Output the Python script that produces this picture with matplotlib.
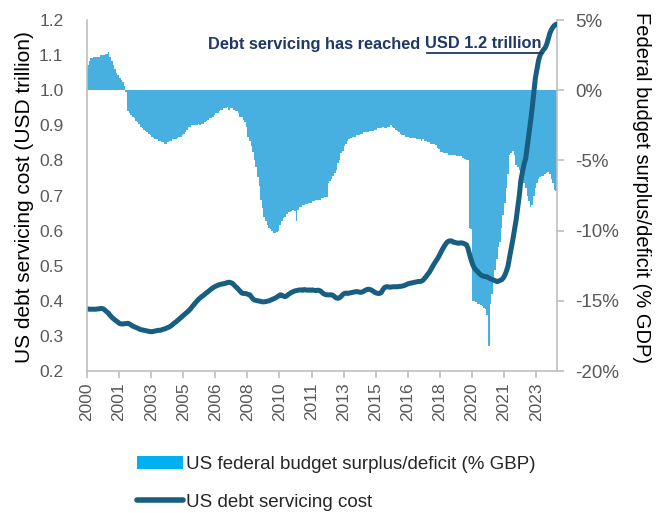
import numpy as np
import pandas as pd
import matplotlib
matplotlib.use('Agg')
import matplotlib.pyplot as plt
from matplotlib.patches import Patch
from matplotlib.lines import Line2D

plt.rcParams['font.family'] = ['Liberation Sans', 'DejaVu Sans']

# US federal budget surplus/deficit, % of GDP, monthly Jan 2000 - May 2024
deficit_pct = [
    1.8, 2.1, 2.3, 2.3, 2.4, 2.4, 2.4, 2.4, 2.5, 2.5, 2.5, 2.6,                 # 2000
    2.6, 2.7, 2.4, 2.1, 1.8, 1.5, 1.2, 1.1, 0.9, 0.7, 0.6, 0.3,                 # 2001
    -0.1, -1.5, -1.6, -1.8, -1.9, -2.0, -2.2, -2.3, -2.4, -2.6, -2.7, -2.8,     # 2002
    -2.9, -3.0, -3.1, -3.2, -3.3, -3.4, -3.5, -3.5, -3.6, -3.6, -3.7, -3.7,     # 2003
    -3.8, -3.8, -3.7, -3.6, -3.6, -3.5, -3.5, -3.5, -3.4, -3.3, -3.3, -3.2,     # 2004
    -3.1, -3.0, -2.8, -2.6, -2.6, -2.5, -2.5, -2.5, -2.5, -2.4, -2.5, -2.4,     # 2005
    -2.4, -2.3, -2.2, -2.1, -2.0, -2.0, -1.9, -1.8, -1.6, -1.6, -1.5, -1.4,     # 2006
    -1.4, -1.3, -1.3, -1.2, -1.4, -1.3, -1.3, -1.4, -1.5, -1.5, -1.6, -1.9,     # 2007
    -1.9, -2.1, -2.3, -2.6, -3.3, -3.6, -4.0, -4.4, -5.0, -5.5, -6.2, -6.8,     # 2008
    -7.8, -8.4, -9.0, -9.3, -9.6, -9.8, -9.9, -10.0, -10.2, -10.2, -10.1, -10.0,  # 2009
    -9.6, -9.3, -9.1, -9.0, -8.8, -8.7, -8.7, -8.6, -8.5, -8.6, -9.3, -8.5,     # 2010
    -8.3, -8.3, -8.2, -8.2, -8.1, -8.1, -8.0, -8.0, -7.9, -7.9, -7.8, -7.8,     # 2011
    -7.8, -7.8, -7.7, -7.7, -7.6, -7.6, -6.6, -6.5, -6.3, -6.1, -5.9, -5.7,     # 2012
    -5.2, -5.0, -4.5, -4.3, -4.0, -3.8, -3.6, -3.5, -3.4, -3.3, -3.3, -3.3,     # 2013
    -3.2, -3.2, -3.1, -3.1, -3.0, -3.0, -3.0, -3.0, -2.9, -2.9, -2.9, -2.8,     # 2014
    -2.8, -2.7, -2.7, -2.7, -2.6, -2.7, -2.7, -2.6, -2.6, -2.5, -2.6, -2.7,     # 2015
    -2.8, -2.9, -3.0, -3.1, -3.2, -3.2, -3.3, -3.3, -3.3, -3.4, -3.4, -3.4,     # 2016
    -3.4, -3.5, -3.5, -3.5, -3.6, -3.5, -3.6, -3.6, -3.7, -3.7, -3.8, -3.8,     # 2017
    -3.8, -3.9, -4.1, -4.2, -4.4, -4.4, -4.5, -4.5, -4.5, -4.6, -4.6, -4.6,     # 2018
    -4.6, -4.6, -4.7, -4.7, -4.7, -4.7, -4.8, -4.9, -5.0, -5.0, -9.8, -9.9,     # 2019
    -15.0, -15.0, -15.1, -15.2, -15.2, -15.3, -15.4, -15.5, -15.6, -16.0, -18.2, -15.2,  # 2020
    -14.5, -13.6, -12.8, -12.0, -11.2, -10.8, -9.8, -8.9, -8.0, -7.0, -6.0, -4.6,  # 2021
    -4.5, -4.3, -4.6, -5.3, -5.5, -5.7, -6.0, -6.2, -6.6, -7.0, -7.5, -7.9,     # 2022
    -8.3, -8.2, -7.5, -7.0, -6.6, -6.3, -6.2, -6.1, -6.1, -6.0, -5.9, -5.8,     # 2023
    -6.0, -6.3, -6.6, -7.1, -7.2,                                               # 2024
]

# US debt servicing cost, USD trillion, monthly Jan 2000 - May 2024
debt_cost = [
    0.377, 0.376, 0.376, 0.376, 0.376, 0.376, 0.377, 0.377, 0.378, 0.378, 0.376, 0.372,
    0.368, 0.364, 0.358, 0.353, 0.349, 0.345, 0.342, 0.338, 0.335, 0.334, 0.334, 0.335,
    0.335, 0.336, 0.334, 0.331, 0.328, 0.326, 0.324, 0.322, 0.320, 0.318, 0.317, 0.316,
    0.315, 0.314, 0.313, 0.312, 0.312, 0.313, 0.314, 0.315, 0.316, 0.316, 0.317, 0.319,
    0.320, 0.322, 0.324, 0.326, 0.329, 0.333, 0.337, 0.340, 0.344, 0.348, 0.352, 0.356,
    0.360, 0.364, 0.368, 0.372, 0.377, 0.383, 0.388, 0.394, 0.399, 0.404, 0.408, 0.412,
    0.415, 0.419, 0.423, 0.426, 0.430, 0.434, 0.437, 0.440, 0.442, 0.444, 0.446, 0.447,
    0.448, 0.449, 0.450, 0.452, 0.453, 0.452, 0.450, 0.446, 0.441, 0.437, 0.432, 0.427,
    0.422, 0.421, 0.421, 0.420, 0.418, 0.417, 0.411, 0.405, 0.402, 0.401, 0.400, 0.399,
    0.398, 0.397, 0.397, 0.398, 0.399, 0.400, 0.402, 0.404, 0.406, 0.408, 0.411, 0.414,
    0.417, 0.416, 0.413, 0.412, 0.414, 0.418, 0.421, 0.424, 0.426, 0.428, 0.429, 0.430,
    0.431, 0.431, 0.430, 0.432, 0.431, 0.430, 0.431, 0.430, 0.431, 0.430, 0.429, 0.430,
    0.430, 0.428, 0.424, 0.420, 0.418, 0.417, 0.417, 0.417, 0.417, 0.415, 0.411, 0.408,
    0.407, 0.409, 0.413, 0.418, 0.421, 0.422, 0.421, 0.422, 0.423, 0.424, 0.425, 0.426,
    0.426, 0.425, 0.424, 0.425, 0.427, 0.430, 0.432, 0.433, 0.432, 0.430, 0.427, 0.424,
    0.422, 0.421, 0.421, 0.424, 0.432, 0.438, 0.440, 0.440, 0.439, 0.439, 0.440, 0.440,
    0.440, 0.440, 0.441, 0.441, 0.442, 0.443, 0.445, 0.447, 0.449, 0.450, 0.451, 0.452,
    0.453, 0.454, 0.455, 0.455, 0.456, 0.459, 0.464, 0.470, 0.476, 0.482, 0.490, 0.498,
    0.506, 0.513, 0.520, 0.528, 0.537, 0.546, 0.554, 0.561, 0.567, 0.570, 0.571, 0.570,
    0.567, 0.566, 0.565, 0.564, 0.565, 0.565, 0.564, 0.562, 0.560, 0.550, 0.532, 0.516,
    0.503, 0.493, 0.488, 0.483, 0.478, 0.474, 0.471, 0.470, 0.469, 0.468, 0.465, 0.463,
    0.461, 0.459, 0.457, 0.455, 0.456, 0.458, 0.460, 0.465, 0.473, 0.485, 0.500, 0.526,
    0.550, 0.575, 0.603, 0.630, 0.665, 0.700, 0.744, 0.768, 0.790, 0.806, 0.840, 0.872,
    0.910, 0.948, 0.990, 1.034, 1.060, 1.085, 1.100, 1.108, 1.115, 1.120, 1.130, 1.145,
    1.162, 1.172, 1.180, 1.185, 1.188,
]

months = pd.date_range('2000-01-01', periods=len(debt_cost), freq='MS')
label_every = 20
left_ticks = [0.2, 0.3, 0.4, 0.5, 0.6, 0.7, 0.8, 0.9, 1.0, 1.1, 1.2]
right_ticks = [-20, -15, -10, -5, 0, 5]

bar_color = '#48B0E0'
line_color = '#175E80'
gray = '#595959'
axis_gray = '#BFBFBF'

W, H = 656, 513
fig = plt.figure(figsize=(W / 100, H / 100), dpi=100)
ax = fig.add_axes([87 / W, 1 - 371 / H, 470 / W, 351 / H])
ax2 = ax.twinx()

x = np.arange(len(months))
ax2.bar(x, deficit_pct, width=1.0, color=bar_color, linewidth=0)
ax.plot(x, debt_cost, color=line_color, lw=3.6, solid_capstyle='round', solid_joinstyle='round')

ax.set_zorder(ax2.get_zorder() + 1)
ax.patch.set_visible(False)

ax.set_xlim(-0.5, len(x) - 0.5)
ax.set_ylim(0.2, 1.2)
ax2.set_ylim(-20, 5)

ax.set_yticks(left_ticks)
ax.set_yticklabels([f'{v:.1f}' for v in left_ticks])
ax2.set_yticks(right_ticks)
ax2.set_yticklabels([f'{v}%' for v in right_ticks])

pos = x[::label_every]
ax.set_xticks(pos - 0.5)
ax.set_xticklabels([str(d.year) for d in months[::label_every]], rotation=90)

for a in (ax, ax2):
    for s in a.spines.values():
        s.set_visible(False)
ax.spines['left'].set_visible(True)
ax.spines['left'].set_color(axis_gray)
ax.spines['bottom'].set_visible(True)
ax.spines['bottom'].set_color(axis_gray)
ax2.spines['right'].set_visible(True)
ax2.spines['right'].set_color(axis_gray)
for a in (ax, ax2):
    for s in a.spines.values():
        s.set_linewidth(1.2)

ax.tick_params(axis='y', length=0, labelsize=12.5, labelcolor=gray, pad=17)
ax.tick_params(axis='x', length=5, color=axis_gray, width=1.2, labelsize=12.5, labelcolor=gray, pad=3)
ax2.tick_params(axis='y', length=5, color=axis_gray, width=1.2, labelsize=13.5, labelcolor=gray, pad=8)

fig.text(25 / W, 1 - 197 / H, 'US debt servicing cost (USD trillion)', rotation=90,
         ha='center', va='center', fontsize=15, color='black')
fig.text(641 / W, 1 - 188 / H, 'Federal budget surplus/deficit (% GDP)', rotation=270,
         ha='center', va='center', fontsize=14.5, color='black')

title_color = '#1F3864'
t1 = fig.text(208 / W, 1 - 44 / H, 'Debt servicing has reached', fontsize=11.8,
              fontweight='bold', color=title_color, va='center', ha='left')
fig.canvas.draw()
r = fig.canvas.get_renderer()
bb1 = t1.get_window_extent(r).transformed(fig.transFigure.inverted())
t2 = fig.text(bb1.x1 + 5 / W, 1 - 44 / H, 'USD 1.2 trillion', fontsize=11.8,
              fontweight='bold', color=title_color, va='center', ha='left')
bb2 = t2.get_window_extent(r).transformed(fig.transFigure.inverted())
fig.add_artist(Line2D([bb2.x0 + 2 / W, bb2.x1], [1 - 53 / H, 1 - 53 / H], transform=fig.transFigure,
                      color=title_color, lw=1.3))

handles = [Patch(facecolor='#00B0F0', edgecolor='none'),
           Line2D([], [], color=line_color, lw=4, solid_capstyle='round')]
labels = ['US federal budget surplus/deficit (% GBP)', 'US debt servicing cost']
fig.legend(handles, labels, loc='upper left', bbox_to_anchor=(137 / W, 1 - 456 / H),
           frameon=False, fontsize=13.5, handlelength=2.45, handleheight=0.7,
           handletextpad=0.15, labelspacing=1.1, borderpad=0, borderaxespad=0,
           labelcolor='#262626')

fig.savefig('out.png', dpi=100)
